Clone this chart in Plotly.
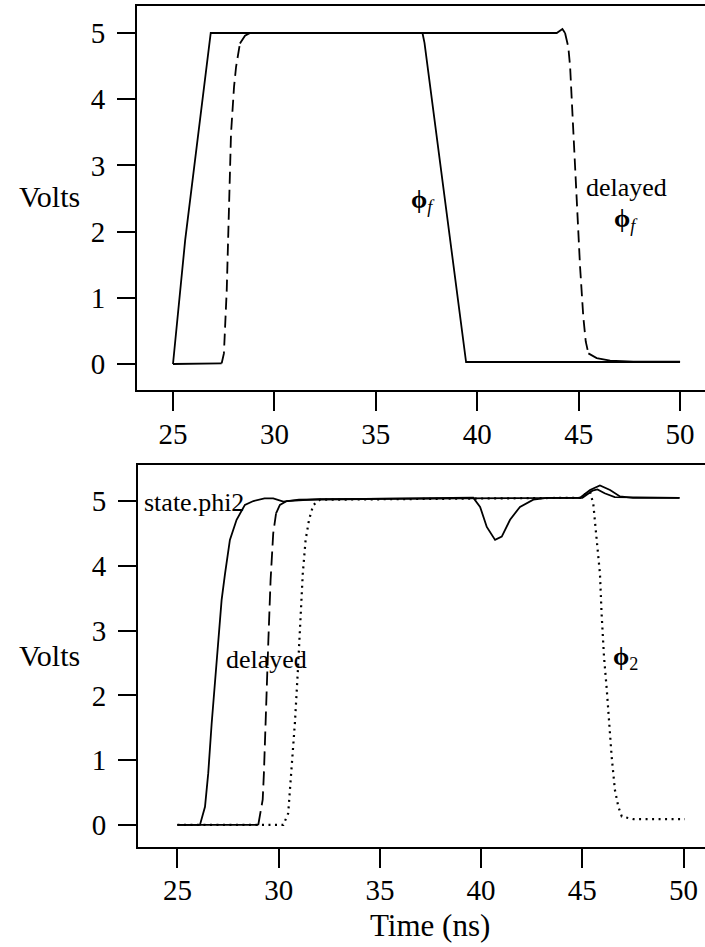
import plotly.graph_objects as go

W, H = 705, 947

# ---------------- top panel data (time ns, volts) ----------------
top_phi_t = [25.0, 25.6, 26.86, 37.3, 37.4, 39.45, 50.0]
top_phi_v = [0.0, 1.87, 5.0, 5.0, 4.85, 0.03, 0.03]

top_del_t = [25.0, 27.19, 27.40, 27.51, 27.65, 27.76, 27.86, 28.01, 28.11, 28.30, 28.55, 28.80,
             43.92, 44.20, 44.33, 44.49, 44.58, 44.74, 44.91, 45.07, 45.23, 45.35, 45.48, 45.89,
             46.55, 47.7, 50.0]
top_del_v = [0.0, 0.0, 0.01, 0.16, 1.12, 2.48, 3.48, 4.19, 4.49, 4.84, 4.96, 5.0,
             5.0, 5.06, 5.0, 4.79, 4.49, 3.48, 2.48, 1.47, 0.71, 0.34, 0.16, 0.09,
             0.05, 0.035, 0.035]

# ---------------- bottom panel data ----------------
bot_state_t = [25.0, 26.11, 26.36, 26.52, 26.69, 26.85, 27.02, 27.18, 27.35, 27.59, 27.92, 28.33,
               28.75, 29.3, 29.73, 30.23, 31.0, 39.61, 39.95, 40.28, 40.69, 41.02, 41.43, 41.92,
               42.58, 43.24, 44.89, 45.38, 45.87, 46.37, 46.86, 47.5, 49.8]
bot_state_v = [0.0, 0.0, 0.28, 0.80, 1.57, 2.24, 2.85, 3.47, 3.88, 4.40, 4.71, 4.94,
               5.0, 5.04, 5.04, 4.99, 5.02, 5.05, 4.91, 4.60, 4.40, 4.45, 4.71, 4.91,
               5.02, 5.05, 5.05, 5.17, 5.24, 5.17, 5.07, 5.05, 5.05]

bot_del_t = [25.0, 28.99, 29.21, 29.27, 29.37, 29.49, 29.60, 29.73, 29.87, 30.06, 30.40, 32.0,
             45.0, 45.5, 45.75, 46.1, 46.6, 49.8]
bot_del_v = [0.0, 0.0, 0.39, 0.80, 1.83, 2.85, 3.78, 4.50, 4.81, 4.94, 5.0, 5.03,
             5.05, 5.16, 5.18, 5.12, 5.06, 5.05]

bot_phi2_t = [25.0, 30.23, 30.47, 30.56, 30.67, 30.80, 30.94, 31.05, 31.19, 31.33, 31.50, 31.71,
              32.04, 44.9, 45.2, 45.38, 45.54, 45.71, 45.87, 45.95, 46.07, 46.21, 46.32, 46.45,
              46.61, 46.78, 46.95, 47.52, 50.07]
bot_phi2_v = [0.0, 0.0, 0.18, 0.54, 1.05, 1.57, 2.34, 3.11, 3.88, 4.40, 4.71, 4.94,
              5.02, 5.05, 5.12, 5.14, 4.96, 4.40, 3.88, 3.27, 2.60, 2.08, 1.57, 1.05,
              0.54, 0.28, 0.13, 0.09, 0.09]

x_ticks = [25, 30, 35, 40, 45, 50]
y_ticks = [0, 1, 2, 3, 4, 5]

FONT = "Liberation Serif"
BLACK = "black"

fig = go.Figure()

def line(x, y, dash, xa, ya, width=1.8):
    fig.add_trace(go.Scatter(x=x, y=y, mode="lines", xaxis=xa, yaxis=ya,
                             line=dict(color=BLACK, width=width, dash=dash),
                             hoverinfo="skip", showlegend=False))

def dashed_series(t, v, dash, xa, ya, thresh=1.0):
    """Old plotters restart the dash pattern at every sample, so the densely
    sampled flat stretches look solid; only the steep edges show dashes."""
    runs = []
    for i in range(len(t) - 1):
        steep = abs(v[i + 1] - v[i]) / (t[i + 1] - t[i]) > thresh
        if runs and runs[-1][0] == steep:
            runs[-1][1].append(i + 1)
        else:
            runs.append((steep, [i, i + 1]))
    for steep, idx in runs:
        line([t[k] for k in idx], [v[k] for k in idx],
             dash if steep else "solid", xa, ya)

line(top_phi_t, top_phi_v, "solid", "x", "y")
dashed_series(top_del_t, top_del_v, "12px,6px", "x", "y")
line(bot_state_t, bot_state_v, "solid", "x2", "y2")
dashed_series(bot_del_t, bot_del_v, "14px,6px", "x2", "y2")
line(bot_phi2_t, bot_phi2_v, "2px,4.5px", "x2", "y2", width=2.2)

def px_x(px):
    return px / W

def px_y(py):
    return 1 - py / H

axis_common = dict(showgrid=False, zeroline=False, showline=True, linecolor=BLACK,
                   linewidth=2, ticks="outside", tickcolor=BLACK, tickwidth=1.6,
                   tickfont=dict(family=FONT, size=29, color=BLACK))

fig.update_layout(
    width=W, height=H,
    margin=dict(l=0, r=0, t=0, b=0),
    paper_bgcolor="white", plot_bgcolor="white",
    showlegend=False,
    xaxis=dict(domain=[px_x(137), 1], range=[23.225, 51.23], anchor="y",
               tickvals=x_ticks, ticklen=19, mirror=True, ticklabelstandoff=-2,
               **axis_common),
    yaxis=dict(domain=[px_y(390), px_y(6)], range=[-0.393, 5.408], anchor="x",
               tickvals=y_ticks, ticklen=18, ticklabelstandoff=6, **axis_common),
    xaxis2=dict(domain=[px_x(138), 1], range=[23.05, 51.06], anchor="y2",
                tickvals=x_ticks, ticklen=19, mirror=True, ticklabelstandoff=-3,
                **axis_common),
    yaxis2=dict(domain=[px_y(847), px_y(465)], range=[-0.34, 5.556], anchor="x2",
                tickvals=y_ticks, ticklen=18, ticklabelstandoff=6, **axis_common),
)

ann_font = dict(family=FONT, size=26, color=BLACK)

annotations = [
    # axis titles
    dict(text="Volts", xref="paper", yref="paper", x=px_x(49), y=px_y(196),
         showarrow=False, font=dict(family=FONT, size=30, color=BLACK),
         xanchor="center", yanchor="middle"),
    dict(text="Volts", xref="paper", yref="paper", x=px_x(49), y=px_y(655),
         showarrow=False, font=dict(family=FONT, size=30, color=BLACK),
         xanchor="center", yanchor="middle"),
    dict(text="Time (ns)", xref="paper", yref="paper", x=px_x(430), y=px_y(925),
         showarrow=False, font=dict(family=FONT, size=31, color=BLACK),
         xanchor="center", yanchor="middle"),
    # top panel labels
    dict(text="<b>ϕ</b><sub><i>f</i></sub>", xref="x", yref="y", x=36.69, y=2.46,
         showarrow=False, font=ann_font, xanchor="left", yanchor="middle"),
    dict(text="delayed", xref="x", yref="y", x=45.32, y=2.66,
         showarrow=False, font=ann_font, xanchor="left", yanchor="middle"),
    dict(text="<b>ϕ</b><sub><i>f</i></sub>", xref="x", yref="y", x=46.70, y=2.18,
         showarrow=False, font=ann_font, xanchor="left", yanchor="middle"),
    # bottom panel labels
    dict(text="state.phi2", xref="x2", yref="y2", x=23.30, y=4.98,
         showarrow=False, font=ann_font, xanchor="left", yanchor="middle"),
    dict(text="delayed", xref="x2", yref="y2", x=27.35, y=2.55,
         showarrow=False, font=ann_font, xanchor="left", yanchor="middle"),
    dict(text="<b>ϕ</b><sub>2</sub>", xref="x2", yref="y2", x=46.47, y=2.58,
         showarrow=False, font=ann_font, xanchor="left", yanchor="middle"),
]
for a in annotations:
    a["borderpad"] = 0
fig.update_layout(annotations=annotations)

fig.write_html("out.html")
